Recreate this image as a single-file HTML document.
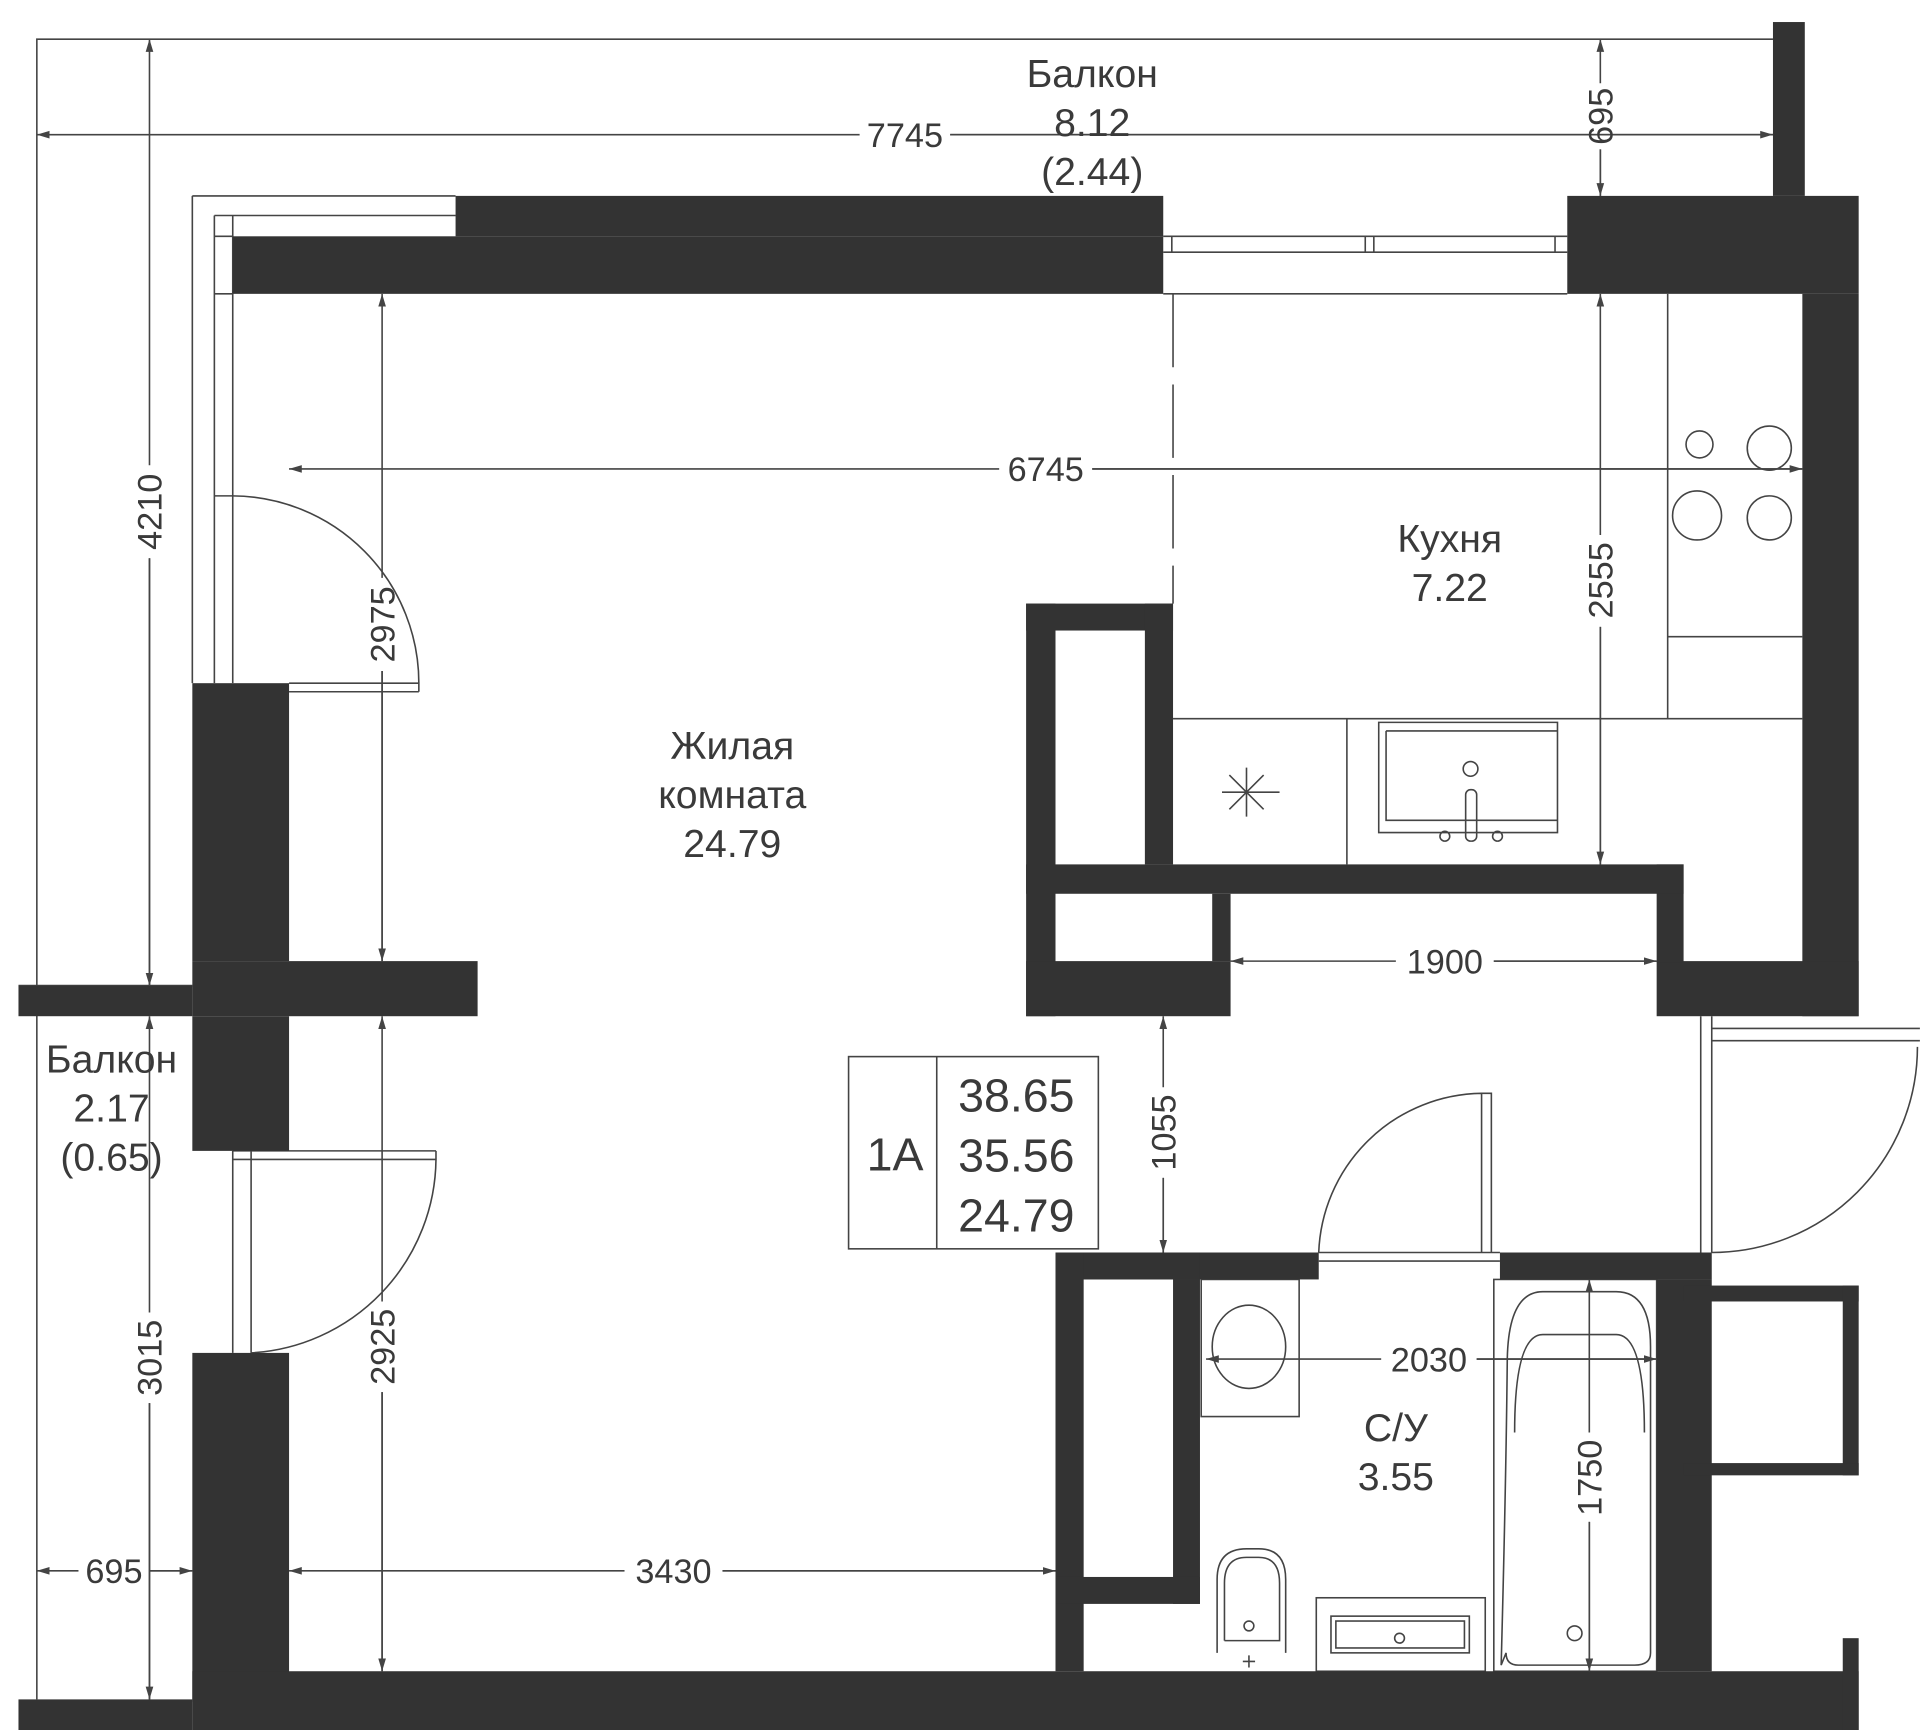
<!DOCTYPE html>
<html><head><meta charset="utf-8"><style>
html,body{margin:0;padding:0;background:#fff;}
svg{display:block;}
text{font-family:"Liberation Sans",sans-serif;fill:#3a3a3a;}
</style></head><body>
<svg width="1920" height="1730" viewBox="0 0 1568 1413" xmlns="http://www.w3.org/2000/svg">
<defs>
<marker id="a" viewBox="0 0 10 10" refX="10" refY="5" markerWidth="8" markerHeight="8" orient="auto-start-reverse"><path d="M0,2 L10,5 L0,8 z" fill="#444"/></marker>
</defs>
<g fill="none" stroke="#444" stroke-width="1.3">
<path d="M1448,32 H30 V1388"/>
<path d="M157,160 H372 M157,160 V558"/>
<path d="M175,176 H372 M175,176 V558 M190,176 V558 M175,193 H190 M175,240 H190 M175,405 H190"/>
<path d="M15,805 H157"/>
<path d="M950,193 H1280 M950,206 H1280 M957,193 V206 M1115,193 V206 M1122,193 V206 M1270,193 V206 M950,240 H1280"/>
<path d="M958,240 V493" stroke-dasharray="60 14"/>
<path d="M1362,240 V587 M1362,520 H1472 M958,587 H1472 M1100,587 V706 M1126,590 H1272 V680 H1126 Z M1132,597 H1272 M1132,597 V670 H1272"/>
<circle cx="1388" cy="363" r="11"/><circle cx="1445" cy="366" r="18"/>
<circle cx="1386" cy="421" r="20"/><circle cx="1445" cy="423" r="18"/>
<path d="M1018,627 V667 M998,647 H1045 M1004,633 L1032,661 M1004,661 L1032,633"/>
<circle cx="1201" cy="628" r="6"/><rect x="1197" y="645" width="9" height="42" rx="4"/>
<circle cx="1180" cy="683" r="4"/><circle cx="1223" cy="683" r="4"/>
<path d="M236,565 H342 M236,558 H342 V565 M190,405 A153,153 0 0 1 342,558"/>
<path d="M190,940 H356 M190,947 H356 V940 M190,940 V1105 M205,940 V1105 M356,947 A160,160 0 0 1 205,1105"/>
<path d="M1077,1023 H1225 M1077,1030 H1225 M1210,893 H1218 V1023 M1210,893 V1023 M1077,1023 A135,135 0 0 1 1210,893"/>
<path d="M1389,830 V1023 M1398,830 V1023 M1398,840 H1568 M1398,850 H1568 M1398,1023 A168,168 0 0 0 1566,855"/>
<rect x="981" y="1045" width="80" height="112"/>
<ellipse cx="1020" cy="1100" rx="30" ry="34"/>
<path d="M994,1350 V1290 Q994,1265 1018,1265 H1028 Q1050,1265 1050,1290 V1350 M1000,1340 V1293 Q1000,1272 1018,1272 H1028 Q1045,1272 1045,1293 V1340 H1000"/>
<circle cx="1020" cy="1328" r="4"/>
<path d="M1015,1357 H1025 M1020,1352 V1362"/>
<rect x="1075" y="1305" width="138" height="60"/>
<rect x="1087" y="1320" width="113" height="30"/><rect x="1091" y="1324" width="105" height="22"/>
<circle cx="1143" cy="1338" r="4"/>
<rect x="1220" y="1045" width="133" height="320"/>
<path d="M1226,1360 Q1230,1210 1231,1110 Q1232,1055 1260,1055 H1320 Q1348,1055 1348,1100 V1350 Q1348,1360 1335,1360 H1240 Q1230,1360 1230,1350 Z"/>
<path d="M1237,1170 Q1237,1090 1260,1090 H1320 Q1343,1090 1343,1170"/>
<circle cx="1286" cy="1334" r="6"/>
<rect x="693" y="863" width="204" height="157"/>
<path d="M765,863 V1020"/>
</g>
<g fill="#333">
<rect x="1448" y="18" width="26" height="142"/>
<rect x="372" y="160" width="578" height="33"/>
<rect x="190" y="193" width="760" height="47"/>
<rect x="1280" y="160" width="238" height="80"/>
<rect x="1472" y="240" width="46" height="590"/>
<rect x="1353" y="785" width="165" height="45"/>
<rect x="1353" y="706" width="22" height="80"/>
<rect x="838" y="706" width="537" height="24"/>
<rect x="838" y="493" width="120" height="22"/>
<rect x="838" y="493" width="24" height="337"/>
<rect x="935" y="493" width="23" height="213"/>
<rect x="990" y="730" width="15" height="55"/>
<rect x="838" y="785" width="167" height="45"/>
<rect x="157" y="558" width="79" height="227"/>
<rect x="157" y="785" width="233" height="45"/>
<rect x="15" y="805" width="142" height="25"/>
<rect x="157" y="830" width="79" height="110"/>
<rect x="157" y="1105" width="79" height="285"/>
<rect x="157" y="1365" width="1361" height="48"/>
<rect x="15" y="1388" width="142" height="25"/>
<rect x="862" y="1023" width="215" height="22"/>
<rect x="1225" y="1023" width="173" height="22"/>
<rect x="862" y="1023" width="23" height="342"/>
<rect x="885" y="1023" width="95" height="22"/>
<rect x="958" y="1045" width="22" height="265"/>
<rect x="862" y="1288" width="118" height="22"/>
<rect x="1353" y="1045" width="45" height="320"/>
<rect x="1375" y="1050" width="143" height="13"/>
<rect x="1505" y="1050" width="13" height="155"/>
<rect x="1375" y="1195" width="143" height="10"/>
<rect x="1505" y="1338" width="13" height="75"/>
</g>
<g stroke="#444" stroke-width="1.3" fill="none">
<path d="M30,110 H702 M776,110 H1448" marker-start="url(#a)"/><path d="M776,110 H1448" marker-end="url(#a)"/>
<path d="M1307,32 V68 M1307,122 V160" marker-start="url(#a)" />
<path d="M1307,122 V160" marker-end="url(#a)"/>
<path d="M122,32 V380 M122,456 V805" marker-start="url(#a)"/><path d="M122,456 V805" marker-end="url(#a)"/>
<path d="M236,383 H816 M892,383 H1472" marker-start="url(#a)"/><path d="M892,383 H1472" marker-end="url(#a)"/>
<path d="M1307,240 V437 M1307,512 V706" marker-start="url(#a)"/><path d="M1307,512 V706" marker-end="url(#a)"/>
<path d="M312,240 V472 M312,548 V785" marker-start="url(#a)"/><path d="M312,548 V785" marker-end="url(#a)"/>
<path d="M1005,785 H1140 M1220,785 H1353" marker-start="url(#a)"/><path d="M1220,785 H1353" marker-end="url(#a)"/>
<path d="M950,830 V888 M950,962 V1023" marker-start="url(#a)"/><path d="M950,962 V1023" marker-end="url(#a)"/>
<path d="M122,830 V1072 M122,1146 V1388" marker-start="url(#a)"/><path d="M122,1146 V1388" marker-end="url(#a)"/>
<path d="M312,830 V1063 M312,1137 V1365" marker-start="url(#a)"/><path d="M312,1137 V1365" marker-end="url(#a)"/>
<path d="M30,1283 H64 M122,1283 H157" marker-start="url(#a)"/><path d="M122,1283 H157" marker-end="url(#a)"/>
<path d="M236,1283 H510 M590,1283 H862" marker-start="url(#a)"/><path d="M590,1283 H862" marker-end="url(#a)"/>
<path d="M985,1110 H1128 M1206,1110 H1353" marker-start="url(#a)"/><path d="M1206,1110 H1353" marker-end="url(#a)"/>
<path d="M1298,1045 V1170 M1298,1243 V1365" marker-start="url(#a)"/><path d="M1298,1243 V1365" marker-end="url(#a)"/>
</g>
<g font-size="28" text-anchor="middle">
<text x="739" y="120">7745</text>
<text x="854" y="393">6745</text>
<text x="1180" y="795">1900</text>
<text x="550" y="1293">3430</text>
<text x="93" y="1293">695</text>
<text x="1167" y="1120">2030</text>
<text transform="translate(1317,95) rotate(-90)">695</text>
<text transform="translate(132,418) rotate(-90)">4210</text>
<text transform="translate(322,510) rotate(-90)">2975</text>
<text transform="translate(1317,474) rotate(-90)">2555</text>
<text transform="translate(960,925) rotate(-90)">1055</text>
<text transform="translate(132,1109) rotate(-90)">3015</text>
<text transform="translate(322,1100) rotate(-90)">2925</text>
<text transform="translate(1308,1207) rotate(-90)">1750</text>
</g>
<g font-size="32" text-anchor="middle">
<text x="892" y="71">Балкон</text>
<text x="892" y="111">8.12</text>
<text x="892" y="151">(2.44)</text>
<text x="1184" y="451">Кухня</text>
<text x="1184" y="491">7.22</text>
<text x="598" y="620">Жилая</text>
<text x="598" y="660">комната</text>
<text x="598" y="700">24.79</text>
<text x="91" y="876">Балкон</text>
<text x="91" y="916">2.17</text>
<text x="91" y="956">(0.65)</text>
<text x="1140" y="1177">С/У</text>
<text x="1140" y="1217">3.55</text>
</g>
<g font-size="38" text-anchor="middle">
<text x="731" y="956">1A</text>
<text x="830" y="908">38.65</text>
<text x="830" y="957">35.56</text>
<text x="830" y="1006">24.79</text>
</g>
</svg>
</body></html>
